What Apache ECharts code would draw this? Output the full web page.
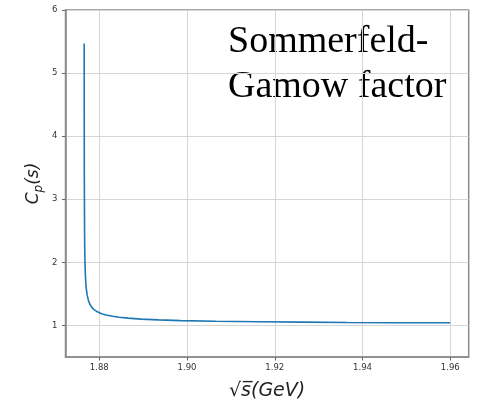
<!DOCTYPE html>
<html>
<head>
<meta charset="utf-8">
<script src="https://cdn.jsdelivr.net/npm/echarts@6/dist/echarts.min.js"></script>
<style>
html,body{margin:0;padding:0;background:#fff;}
#chart{width:482px;height:399px;}
</style>
</head>
<body>
<div id="chart"></div>
<script>
// sqrt(s) in GeV
var sqrtS = [1.876561, 1.876564, 1.876574, 1.876594, 1.876644, 1.876694, 1.876744, 1.876844,
  1.876944, 1.877044, 1.877244, 1.877544, 1.877844, 1.878244, 1.878744, 1.879544, 1.880544,
  1.881544, 1.883044, 1.884544, 1.886544, 1.889544, 1.893544, 1.898544, 1.906544, 1.916544,
  1.926544, 1.936544, 1.946544, 1.960000];
// C_p(s)
var cp = [5.47, 5.00, 4.13, 3.28, 2.49, 2.17, 1.98, 1.77,
  1.66, 1.58, 1.48, 1.39, 1.34, 1.29, 1.255, 1.216, 1.186,
  1.165, 1.145, 1.130, 1.116, 1.101, 1.088, 1.077, 1.066, 1.058,
  1.052, 1.047, 1.044, 1.042];
var xTicks = [1.88, 1.90, 1.92, 1.94, 1.96];
var yTicks = [1, 2, 3, 4, 5, 6];
var xLabel = '√s\u0305(GeV)';
var annotation = ['Sommerfeld-', 'Gamow factor'];

var pts = sqrtS.map(function (x, i) { return [x, cp[i]]; });

var chart = echarts.init(document.getElementById('chart'), null, {renderer: 'canvas'});
var tickFont = {fontFamily: 'DejaVu Sans', fontSize: 8.5, color: '#333'};
chart.setOption({
  animation: false,
  backgroundColor: '#fff',
  grid: {left: 65.5, top: 10, right: 13.3, bottom: 42, outerBoundsMode: 'none', containLabel: false,
    show: true, borderColor: '#8a8a8a', borderWidth: 1.5, backgroundColor: 'transparent'},
  xAxis: {
    type: 'value', min: 1.8723, max: 1.9642,
    name: xLabel, nameLocation: 'middle', nameGap: 25,
    nameTextStyle: {fontFamily: 'DejaVu Sans', fontStyle: 'italic', fontSize: 19, color: '#222'},
    axisLine: {show: true, onZero: false, lineStyle: {color: '#8a8a8a', width: 1.5}},
    axisTick: {show: true, length: 3.5, lineStyle: {color: '#666'}, customValues: xTicks},
    axisLabel: Object.assign({margin: 6, customValues: xTicks, formatter: function (v) { return v.toFixed(2); }}, tickFont),
    splitLine: {show: true, lineStyle: {color: '#d6d6d6', width: 1}}
  },
  yAxis: {
    type: 'value', min: 0.5, max: 6,
    name: '{c|C}{p|p}{c|(s)}', nameLocation: 'middle', nameGap: 21, nameRotate: 90, nameMoveOverlap: false,
    nameTextStyle: {
      color: '#222',
      rich: {
        c: {fontFamily: 'DejaVu Sans', fontStyle: 'italic', fontSize: 17, color: '#222'},
        p: {fontFamily: 'DejaVu Sans', fontStyle: 'italic', fontSize: 12, color: '#222', padding: [9, 0, 0, 0]}
      }
    },
    axisLine: {show: true, onZero: false, lineStyle: {color: '#8a8a8a', width: 1.5}},
    axisTick: {show: true, length: 3.5, lineStyle: {color: '#666'}, customValues: yTicks},
    axisLabel: Object.assign({margin: 8, customValues: yTicks, formatter: function (v) { return String(v); }}, tickFont),
    splitLine: {show: true, lineStyle: {color: '#d6d6d6', width: 1}}
  },
  graphic: [{
    type: 'text', left: 228, top: 20,
    style: {text: annotation.join('\n'), fontFamily: 'Liberation Serif', fontSize: 38, lineHeight: 45, fill: '#000'}
  }],
  series: [{
    type: 'line', data: pts, showSymbol: false, smooth: false,
    lineStyle: {color: '#1f77b4', width: 1.6}, itemStyle: {color: '#1f77b4'}
  }]
});
</script>
</body>
</html>
